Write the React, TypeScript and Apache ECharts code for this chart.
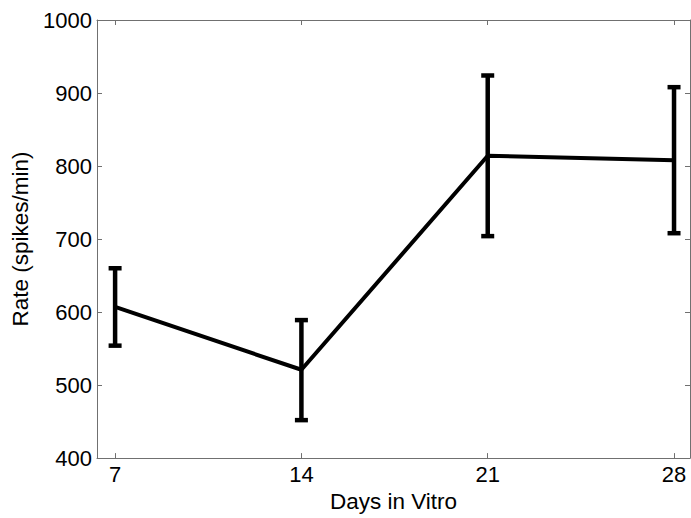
import React, { useEffect, useRef } from "react";
import * as echarts from "echarts";

const days = [7, 14, 21, 28];
const rateMean = [607, 521, 814, 808];
const rateLow = [554, 452, 704, 708];
const rateHigh = [660, 589, 924, 908];
const yTicks = [400, 500, 600, 700, 800, 900, 1000];

const FONT = "'Liberation Sans', Arial, sans-serif";
const AXIS_GREY = "#707070";

export default function App() {
  const ref = useRef<HTMLDivElement>(null);
  useEffect(() => {
    if (!ref.current) return;
    const chart = echarts.init(ref.current, null, { renderer: "svg" });
    const lineData = days.map((d, i) => [d, rateMean[i]]);
    const errData = days.map((d, i) => [d, rateLow[i], rateHigh[i]]);
    const tickStyle = { inside: true, length: 5, lineStyle: { color: AXIS_GREY, width: 1 } };
    chart.setOption({
      animation: false,
      backgroundColor: "#ffffff",
      grid: { left: 97, right: 1, top: 20, bottom: 58, containLabel: false },
      xAxis: [
        {
          type: "value",
          min: 6.32,
          max: 28.6,
          name: "Days in Vitro",
          nameLocation: "middle",
          nameGap: 26,
          nameTextStyle: { fontFamily: FONT, fontSize: 22.5, color: "#000" },
          axisLine: { show: true, onZero: false, lineStyle: { color: AXIS_GREY, width: 1 } },
          axisTick: { ...tickStyle, customValues: days },
          axisLabel: {
            customValues: days,
            formatter: (v: number) => String(v),
            fontFamily: FONT,
            fontSize: 22,
            color: "#000",
            margin: 5,
          },
          splitLine: { show: false },
        },
        {
          type: "value",
          position: "top",
          min: 6.32,
          max: 28.6,
          axisLine: { show: true, onZero: false, lineStyle: { color: AXIS_GREY, width: 1 } },
          axisTick: { ...tickStyle, customValues: days },
          axisLabel: { show: false },
          splitLine: { show: false },
        },
      ],
      yAxis: [
        {
          type: "value",
          min: 400,
          max: 1000,
          interval: 100,
          name: "Rate (spikes/min)",
          nameLocation: "middle",
          nameGap: 60,
          nameTextStyle: { fontFamily: FONT, fontSize: 22.5, color: "#000" },
          axisLine: { show: true, onZero: false, lineStyle: { color: AXIS_GREY, width: 1 } },
          axisTick: { ...tickStyle, customValues: yTicks },
          axisLabel: {
            customValues: yTicks,
            formatter: (v: number) => String(v),
            fontFamily: FONT,
            fontSize: 22,
            color: "#000",
            margin: 5,
          },
          splitLine: { show: false },
        },
        {
          type: "value",
          position: "right",
          min: 400,
          max: 1000,
          interval: 100,
          axisLine: { show: true, onZero: false, lineStyle: { color: AXIS_GREY, width: 1 } },
          axisTick: { ...tickStyle, customValues: yTicks },
          axisLabel: { show: false },
          splitLine: { show: false },
        },
      ],
      series: [
        {
          type: "line",
          data: lineData,
          symbol: "none",
          lineStyle: { color: "#000", width: 4 },
          z: 3,
        },
        {
          type: "custom",
          data: errData,
          z: 4,
          renderItem: (params: any, api: any) => {
            const x = api.value(0);
            const lo = api.coord([x, api.value(1)]);
            const hi = api.coord([x, api.value(2)]);
            const half = 6.5;
            const style = { stroke: "#000", lineWidth: 4.5 };
            return {
              type: "group",
              children: [
                { type: "line", shape: { x1: lo[0], y1: lo[1], x2: hi[0], y2: hi[1] }, style },
                { type: "line", shape: { x1: lo[0] - half, y1: lo[1], x2: lo[0] + half, y2: lo[1] }, style },
                { type: "line", shape: { x1: hi[0] - half, y1: hi[1], x2: hi[0] + half, y2: hi[1] }, style },
              ],
            };
          },
        },
      ],
    });
    return () => chart.dispose();
  }, []);
  return (
    <div
      ref={ref}
      style={{ position: "absolute", left: 0, top: 0, width: 691, height: 518 }}
    />
  );
}
